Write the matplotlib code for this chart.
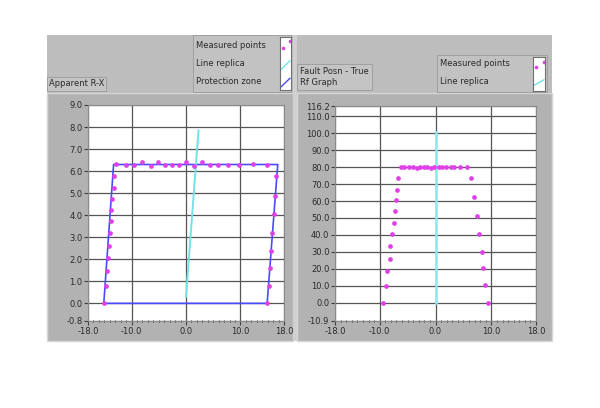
import numpy as np
import matplotlib.pyplot as plt
from matplotlib.patches import Rectangle

# Apparent R-X : measured points (R, X)
rx_r = [-15.1, -14.7, -14.6, -14.4, -14.1, -13.9, -13.8, -13.7, -13.6, -13.3, -13.3,
        -12.9, -11.05, -9.6, -8.0, -6.5, -5.2, -3.8, -2.5, -1.2, 0.0, 1.4, 2.9,
        4.4, 5.9, 7.8, 9.75, 12.3, 14.9,
        16.5, 16.3, 16.2, 15.8, 15.6, 15.4, 15.2, 14.9]
rx_x = [0.0, 0.79, 1.45, 2.04, 2.61, 3.21, 3.73, 4.25, 4.75, 5.25, 5.79,
        6.34, 6.28, 6.28, 6.40, 6.25, 6.40, 6.28, 6.30, 6.28, 6.40, 6.22, 6.40,
        6.28, 6.28, 6.30, 6.28, 6.34, 6.28,
        5.79, 4.88, 4.06, 3.19, 2.39, 1.60, 0.79, 0.0]
# protection zone polygon
zone_r = [-15.1, -13.3, 16.85, 14.9, -15.1]
zone_x = [0.0, 6.3, 6.3, 0.0, 0.0]
# line replica
rep_r = [0.0, 2.3]
rep_x = [0.3, 7.85]

# Fault Posn - True Rf : measured points (Rf, fault position)
fp_rf = [-9.4, -8.9, -8.7, -8.2, -8.1, -7.8, -7.5, -7.3, -7.15, -6.85, -6.7,
         -6.2, -5.6, -4.8, -4.1, -3.4, -2.8, -2.1, -1.45, -0.8, -0.2, 0.55, 1.2,
         1.9, 2.7, 3.4, 4.4, 5.7,
         6.4, 6.9, 7.45, 7.75, 8.3, 8.5, 8.85, 9.4]
fp_pos = [0.0, 9.7, 18.8, 25.9, 33.6, 40.3, 47.2, 53.9, 60.7, 66.6, 73.7,
          80.0, 80.2, 80.0, 80.3, 79.8, 80.1, 79.9, 80.2, 79.8, 80.0, 80.2, 79.9,
          80.0, 80.1, 79.9, 80.0, 80.1,
          73.7, 62.3, 51.2, 40.3, 30.0, 20.2, 10.3, 0.0]
rep2_rf = [0.0, 0.0]
rep2_pos = [0.0, 101.0]

left_yticks = [-0.8, 0, 1, 2, 3, 4, 5, 6, 7, 8, 9]
right_yticks = [-10.9, 0, 10, 20, 30, 40, 50, 60, 70, 80, 90, 100, 110, 116.2]
xticks = [-18, -10, 0, 10, 18]

W, H = 600, 408
fig = plt.figure(figsize=(6, 4.08), dpi=100)
fig.patch.set_facecolor('white')

def px(x0, y0, w, h):
    return [x0 / W, 1 - (y0 + h) / H, w / W, h / H]

def frect(x0, y0, w, h, fc, ec='none', lw=0, z=-5):
    r = Rectangle((x0 / W, 1 - (y0 + h) / H), w / W, h / H, transform=fig.transFigure,
                  facecolor=fc, edgecolor=ec, linewidth=lw, zorder=z)
    fig.patches.append(r)

# grey front panel
frect(47, 35, 505, 306, '#bdbdbd')
frect(47, 93, 246, 248, '#b2b2b2', ec='#d6d6d6', lw=1)
frect(297, 93, 255, 248, '#b2b2b2', ec='#d6d6d6', lw=1)
frect(293, 35, 4, 306, '#d0d0d0')

txt = '#2a2a2a'
fs = 6

def setup(ax, ylim, yticks):
    ax.set_zorder(5)
    ax.set_facecolor('white')
    ax.set_xlim(-18, 18)
    ax.set_ylim(*ylim)
    ax.set_xticks(xticks)
    ax.set_xticklabels(['%.1f' % v for v in xticks])
    ax.set_xticks(np.arange(-18, 19, 1), minor=True)
    ax.set_yticks(yticks)
    ax.set_yticklabels(['%.1f' % v for v in yticks])
    ax.tick_params(axis='both', labelsize=fs, colors='#404040', labelcolor=txt,
                   length=3, width=0.8, pad=1)
    ax.tick_params(axis='x', which='minor', length=2, width=0.6, direction='inout')
    ax.grid(True, color='#555555', linewidth=0.9)
    ax.set_axisbelow(True)
    for s in ax.spines.values():
        s.set_color('#8a8a8a')
        s.set_linewidth(0.8)

ax1 = fig.add_axes(px(88, 105, 196, 216))
setup(ax1, (-0.8, 9.0), left_yticks)
ax1.plot(zone_r, zone_x, color='#4a4aff', linewidth=1.2, zorder=3)
ax1.plot(rep_r, rep_x, color='#6fe3e8', linewidth=1.4, zorder=3)
ax1.plot(rx_r, rx_x, 'o', color='#e040e8', markersize=3.4, markeredgewidth=0, zorder=4)

ax2 = fig.add_axes(px(335, 106, 201, 215))
setup(ax2, (-10.9, 116.2), right_yticks)
ax2.plot(rep2_rf, rep2_pos, color='#8fe8f0', linewidth=1.8, zorder=3)
ax2.plot(fp_rf, fp_pos, 'o', color='#e040e8', markersize=3.4, markeredgewidth=0, zorder=4)

# captions
fig.text(49 / W, 1 - 84 / H, 'Apparent R-X', fontsize=fs, color=txt, va='center',
         bbox=dict(boxstyle='square,pad=0.25', fc='#c4c4c4', ec='#9a9a9a', lw=0.6))
fig.text(300 / W, 1 - 77 / H, 'Fault Posn - True\nRf Graph', fontsize=fs, color=txt,
         va='center', linespacing=1.3,
         bbox=dict(boxstyle='square,pad=0.35', fc='#c4c4c4', ec='#9a9a9a', lw=0.6))

# legends
frect(193, 35, 98, 57, '#c2c2c2', ec='#9a9a9a', lw=0.6, z=-1)
for i, lab in enumerate(['Measured points', 'Line replica', 'Protection zone']):
    fig.text(196 / W, 1 - (45 + 18.5 * i) / H, lab, fontsize=fs, color=txt, va='center')
frect(437, 55, 110, 37, '#c2c2c2', ec='#9a9a9a', lw=0.6, z=-1)
for i, lab in enumerate(['Measured points', 'Line replica']):
    fig.text(440 / W, 1 - (64 + 18 * i) / H, lab, fontsize=fs, color=txt, va='center')

def swatch(rect, items):
    s = fig.add_axes(px(*rect))
    s.set_zorder(6)
    s.set_facecolor('white')
    s.set_xlim(0, 1)
    s.set_ylim(0, 1)
    s.set_xticks([])
    s.set_yticks([])
    for sp in s.spines.values():
        sp.set_color('#707070')
        sp.set_linewidth(0.8)
    for kind, col, y in items:
        if kind == 'pt':
            s.plot([0.25, 0.9], [y, y + 0.12], 'o', color=col, markersize=2.6,
                   markeredgewidth=0, clip_on=False)
        else:
            s.plot([0.1, 0.9], [y - 0.08, y + 0.08], color=col, linewidth=1)

swatch((280, 37, 11, 53), [('pt', '#e040e8', 0.8), ('ln', '#6fe3e8', 0.47),
                           ('ln', '#4a4aff', 0.14)])
swatch((533, 57, 12, 34), [('pt', '#e040e8', 0.72), ('ln', '#6fe3e8', 0.25)])

fig.savefig('out.png', dpi=100, facecolor='white')
